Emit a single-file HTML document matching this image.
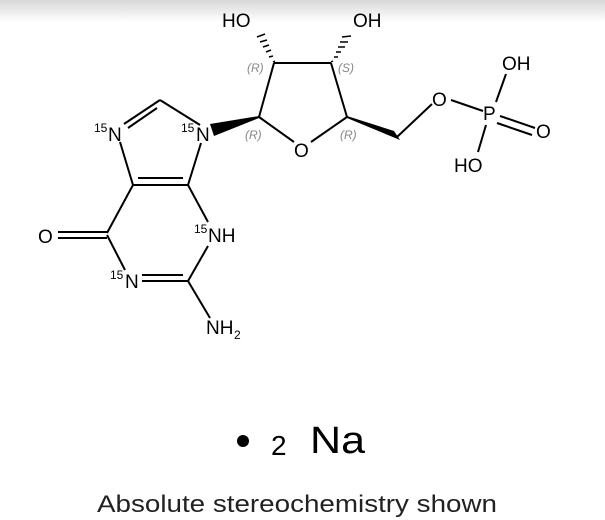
<!DOCTYPE html>
<html><head><style>
html,body{margin:0;padding:0;background:#fff;width:605px;height:520px;overflow:hidden;}
svg{position:absolute;left:0;top:0;}
</style></head><body>
<svg width="605" height="520" viewBox="0 0 605 520" font-family="Liberation Sans, DejaVu Sans, sans-serif">
<defs><linearGradient id="g" x1="0" y1="0" x2="0" y2="1"><stop offset="0" stop-color="#d8d8d8"/><stop offset="1" stop-color="#fff"/></linearGradient></defs>
<rect x="0" y="0" width="605" height="22" fill="url(#g)"/>
<g stroke="#000" stroke-width="2" fill="none">
<line x1="259" y1="117" x2="274" y2="63"/>
<line x1="274" y1="63" x2="331" y2="63"/>
<line x1="331" y1="63" x2="347" y2="117"/>
<line x1="259" y1="117" x2="294" y2="142"/>
<line x1="347" y1="117" x2="311" y2="142"/>
<line x1="200" y1="125" x2="160" y2="100"/>
<line x1="160" y1="100" x2="124" y2="124"/>
<line x1="157" y1="108" x2="128" y2="128"/>
<line x1="120" y1="142" x2="133" y2="185"/>
<line x1="133" y1="185" x2="188" y2="185"/>
<line x1="138" y1="178" x2="183" y2="178"/>
<line x1="188" y1="185" x2="201" y2="143"/>
<line x1="133" y1="185" x2="107" y2="233"/>
<line x1="107" y1="232" x2="58" y2="232"/>
<line x1="107" y1="238" x2="58" y2="238"/>
<line x1="107" y1="235" x2="125" y2="270"/>
<line x1="142" y1="281" x2="188" y2="281"/>
<line x1="142" y1="275" x2="183" y2="275"/>
<line x1="188" y1="185" x2="208" y2="222"/>
<line x1="208" y1="246" x2="188" y2="281"/>
<line x1="188" y1="281" x2="210" y2="318"/>
<line x1="397" y1="137" x2="432" y2="104"/>
<line x1="451" y1="100" x2="483" y2="111"/>
<line x1="496" y1="102" x2="506" y2="74"/>
<line x1="486" y1="125" x2="478" y2="152"/>
<line x1="500" y1="116" x2="535" y2="128"/>
<line x1="497" y1="123" x2="532" y2="135"/>
</g>
<polygon points="259,116 259,118 214,136 210,124" fill="#000"/>
<polygon points="347,116 347,118 400,140 394,131" fill="#000"/>
<g stroke="#000" stroke-width="1.5">
<line x1="273" y1="62" x2="275" y2="61"/><line x1="269" y1="57" x2="273" y2="56"/><line x1="266" y1="52" x2="271" y2="50"/><line x1="263" y1="47" x2="269" y2="45"/><line x1="260" y1="42" x2="267" y2="40"/><line x1="257" y1="37" x2="265" y2="34"/>
<line x1="331" y1="62" x2="333" y2="61"/><line x1="334" y1="57" x2="338" y2="57"/><line x1="336" y1="52" x2="341" y2="52"/><line x1="338" y1="47" x2="345" y2="47"/><line x1="340" y1="42" x2="348" y2="42"/><line x1="342" y1="37" x2="351" y2="36"/>
</g>
<g font-size="19" fill="#000">
<text x="222" y="27">HO</text>
<text x="353" y="27">OH</text>
<text x="294" y="157">O</text>
<text x="196" y="141">N</text>
<text x="181" y="132" font-size="12">15</text>
<text x="108" y="141">N</text>
<text x="94" y="132" font-size="12">15</text>
<text x="38" y="243">O</text>
<text x="208" y="242">NH</text>
<text x="194" y="233" font-size="12">15</text>
<text x="125" y="288">N</text>
<text x="110" y="279" font-size="12">15</text>
<text x="206" y="334">NH</text>
<text x="234" y="339" font-size="12">2</text>
<text x="432" y="106">O</text>
<text x="483" y="120">P</text>
<text x="502" y="70">OH</text>
<text x="536" y="138">O</text>
<text x="454" y="172">HO</text>
</g>
<g font-size="12" fill="#888" font-style="italic">
<text x="247" y="72">(R)</text>
<text x="338" y="72">(S)</text>
<text x="245" y="139">(R)</text>
<text x="340" y="139">(R)</text>
</g>
<circle cx="243" cy="441" r="6" fill="#000"/>
<text x="271" y="455" font-size="28" fill="#000">2</text>
<text x="310" y="453" font-size="38" fill="#000" textLength="55" lengthAdjust="spacingAndGlyphs">Na</text>
<text x="97" y="512" font-size="24" fill="#222" textLength="400" lengthAdjust="spacingAndGlyphs">Absolute stereochemistry shown</text>
</svg>
</body></html>
